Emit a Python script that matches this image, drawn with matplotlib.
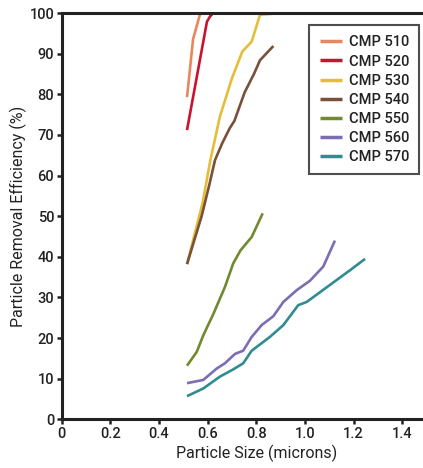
import matplotlib
matplotlib.use("Agg")
import matplotlib.pyplot as plt

plt.rcParams['font.family'] = ['Roboto', 'DejaVu Sans']
plt.rcParams['font.weight'] = 'medium'

labels = ["CMP 510", "CMP 520", "CMP 530", "CMP 540", "CMP 550", "CMP 560", "CMP 570"]
colors = ["#E8875E", "#C8142E", "#E6BD3A", "#7A5138", "#6F8A2F", "#7D6DB3", "#2F8C90"]

x510 = [0.515, 0.54, 0.572]
y510 = [79.3, 93.6, 100.5]
x520 = [0.515, 0.597, 0.61, 0.63]
y520 = [71.2, 97.9, 99.2, 100.5]
x530 = [0.515, 0.58, 0.61, 0.65, 0.70, 0.742, 0.781, 0.815, 0.863]
y530 = [38.2, 53.5, 63.5, 74.5, 84.0, 90.5, 93.0, 99.6, 99.8]
x540 = [0.515, 0.575, 0.605, 0.63, 0.66, 0.69, 0.71, 0.752, 0.79, 0.815, 0.87]
y540 = [38.2, 50.0, 57.3, 63.8, 68.0, 71.6, 73.5, 80.5, 85.0, 88.4, 91.9]
x550 = [0.515, 0.555, 0.582, 0.623, 0.671, 0.705, 0.735, 0.781, 0.826]
y550 = [13.2, 16.6, 20.7, 25.9, 32.6, 38.4, 41.6, 44.9, 50.7]
x560 = [0.515, 0.582, 0.637, 0.671, 0.712, 0.746, 0.781, 0.822, 0.87, 0.911, 0.966, 1.02, 1.075, 1.123]
y560 = [8.9, 9.7, 12.5, 13.8, 16.1, 16.9, 20.3, 23.2, 25.4, 28.9, 31.8, 34.1, 37.6, 44.0]
x570 = [0.515, 0.582, 0.65, 0.705, 0.746, 0.781, 0.856, 0.911, 0.972, 1.007, 1.185, 1.247]
y570 = [5.7, 7.6, 10.5, 12.3, 13.8, 16.9, 20.3, 23.2, 28.1, 28.9, 36.7, 39.5]

series = [(x510, y510), (x520, y520), (x530, y530), (x540, y540),
          (x550, y550), (x560, y560), (x570, y570)]

fig = plt.figure(figsize=(4.23, 4.68), dpi=100)
ax = fig.add_axes([0.1459, 0.104, 0.8541, 0.868])

for (xs, ys), lab, c in zip(series, labels, colors):
    ax.plot(xs, ys, color=c, lw=1.9, label=lab, solid_capstyle='butt')

ax.set_xlim(0, 1.485)
ax.set_ylim(0, 100)
ax.set_xticks([0, 0.2, 0.4, 0.6, 0.8, 1.0, 1.2, 1.4])
ax.set_xticklabels(["0", "0.2", "0.4", "0.6", "0.8", "1.0", "1.2", "1.4"])
ax.set_yticks(range(0, 101, 10))

for s in ["left", "bottom", "top"]:
    ax.spines[s].set_linewidth(2.2)
    ax.spines[s].set_color("#222222")
ax.spines["right"].set_visible(False)
ax.tick_params(axis='both', direction='out', length=3.5, width=1.8, color="#222222",
               labelsize=10.5, pad=2, labelcolor="#222222")

ax.set_xlabel("Particle Size (microns)", fontsize=11.5, labelpad=4, color="#222222")
ax.xaxis.set_label_coords(0.8 / 1.485, -0.062)
ax.set_ylabel("Particle Removal Efficiency (%)", fontsize=11.5, labelpad=2, color="#222222")

leg = ax.legend(loc='upper right', bbox_to_anchor=(0.99, 0.97), fontsize=10.5,
                frameon=True, fancybox=False, handlelength=1.5, handletextpad=0.5,
                labelspacing=0.35, borderpad=0.7, borderaxespad=0.0)
leg.get_frame().set_edgecolor("#222222")
leg.get_frame().set_linewidth(1.5)
for t in leg.get_texts():
    t.set_color("#222222")
for l in leg.get_lines():
    l.set_linewidth(2.5)

fig.savefig("out.png", dpi=100)
